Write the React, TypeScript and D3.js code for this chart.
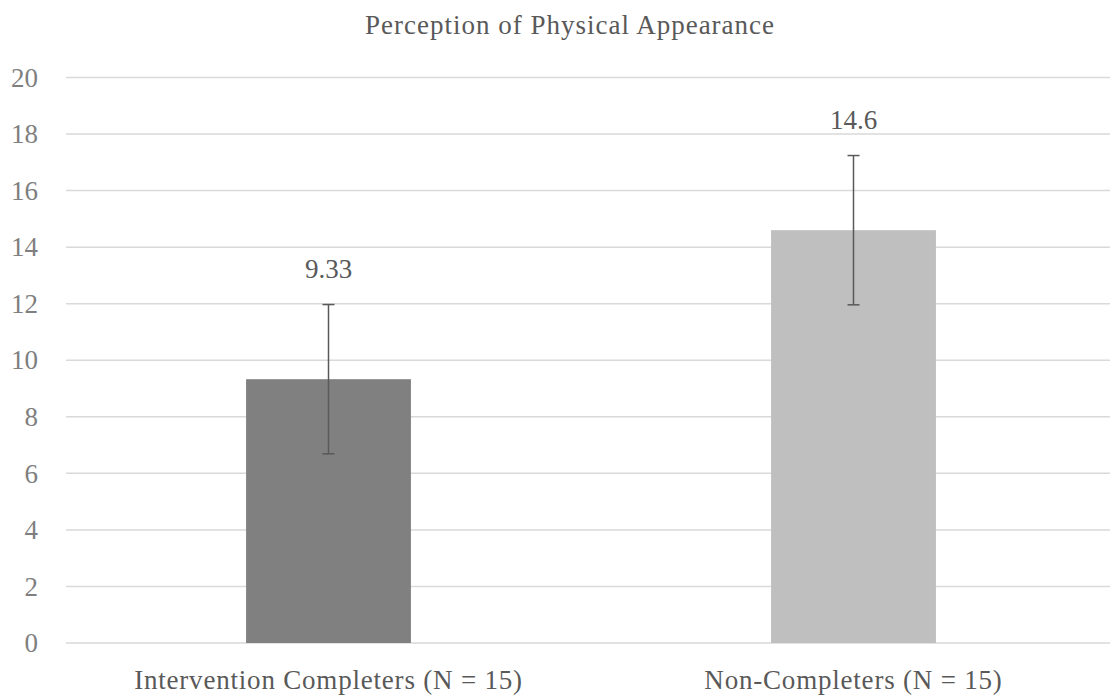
import {useEffect, useRef} from "react";
import * as d3 from "d3";

const title = "Perception of Physical Appearance";
const categories = ["Intervention Completers (N = 15)", "Non-Completers (N = 15)"];
const means = [9.33, 14.6];
const errors = [2.64, 2.64];
const labels = ["9.33", "14.6"];
const barColors = ["#808080", "#bfbfbf"];
const yTicks = [0, 2, 4, 6, 8, 10, 12, 14, 16, 18, 20];

export default function App() {
    const ref = useRef<SVGSVGElement>(null);

    useEffect(() => {
        if (!ref.current) return;
        const width = 1110;
        const height = 697;
        const marginLeft = 66;
        const marginRight = -6;
        const marginTop = 77.5;
        const marginBottom = 54;
        const font = "'Liberation Serif', serif";
        const fontSize = 27;

        const svg = d3.select(ref.current).attr("viewBox", [0, 0, width, height]);
        svg.selectAll("*").remove();

        const x = d3.scaleBand<string>()
            .domain(categories)
            .range([marginLeft, width - marginRight])
            .paddingInner(0.686)
            .paddingOuter(0.343);

        const y = d3.scaleLinear()
            .domain([0, 20])
            .range([height - marginBottom, marginTop]);

        // title
        svg.append("text")
            .attr("x", 570)
            .attr("y", 34)
            .attr("text-anchor", "middle")
            .attr("font-family", font)
            .attr("font-size", fontSize)
            .attr("letter-spacing", 1)
            .attr("fill", "#595959")
            .text(title);

        // gridlines
        svg.append("g")
            .selectAll("line")
            .data(yTicks)
            .join("line")
            .attr("x1", marginLeft)
            .attr("x2", width)
            .attr("y1", d => y(d))
            .attr("y2", d => y(d))
            .attr("stroke", "#d9d9d9")
            .attr("stroke-width", 1.5);

        // y tick labels
        svg.append("g")
            .selectAll("text")
            .data(yTicks)
            .join("text")
            .attr("x", 38)
            .attr("y", d => y(d))
            .attr("dy", "0.34em")
            .attr("text-anchor", "end")
            .attr("font-family", font)
            .attr("font-size", fontSize)
            .attr("fill", "#7f7f7f")
            .text(d => d);

        // bars
        svg.append("g")
            .selectAll("rect")
            .data(categories)
            .join("rect")
            .attr("x", d => x(d)!)
            .attr("width", x.bandwidth())
            .attr("y", (_, i) => y(means[i]))
            .attr("height", (_, i) => y(0) - y(means[i]))
            .attr("fill", (_, i) => barColors[i]);

        // error bars
        const eb = svg.append("g").attr("stroke", "#595959").attr("stroke-width", 1.5);
        categories.forEach((c, i) => {
            const cx = x(c)! + x.bandwidth() / 2;
            const top = y(means[i] + errors[i]);
            const bot = y(means[i] - errors[i]);
            eb.append("line").attr("x1", cx).attr("x2", cx).attr("y1", top).attr("y2", bot);
            eb.append("line").attr("x1", cx - 6).attr("x2", cx + 6).attr("y1", top).attr("y2", top);
            eb.append("line").attr("x1", cx - 6).attr("x2", cx + 6).attr("y1", bot).attr("y2", bot);
        });

        // value labels
        svg.append("g")
            .selectAll("text")
            .data(categories)
            .join("text")
            .attr("x", d => x(d)! + x.bandwidth() / 2)
            .attr("y", (_, i) => y(means[i] + errors[i]) - 27)
            .attr("text-anchor", "middle")
            .attr("font-family", font)
            .attr("font-size", fontSize)
            .attr("fill", "#595959")
            .text((_, i) => labels[i]);

        // category labels
        svg.append("g")
            .selectAll("text")
            .data(categories)
            .join("text")
            .attr("x", d => x(d)! + x.bandwidth() / 2)
            .attr("y", 689)
            .attr("text-anchor", "middle")
            .attr("font-family", font)
            .attr("font-size", fontSize)
            .attr("letter-spacing", 0.8)
            .attr("fill", "#595959")
            .text(d => d);
    }, []);

    return (
        <svg ref={ref} width={1110} height={697}
             style={{position: "absolute", left: 0, top: 0, background: "#fff"}}/>
    );
}
